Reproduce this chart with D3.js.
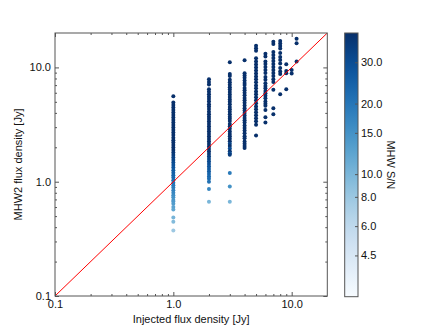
<!DOCTYPE html>
<html>
<head>
<meta charset="utf-8">
<script src="https://cdn.jsdelivr.net/npm/d3@7"></script>
<style>
  body { margin: 0; background: #fff; }
  svg { display: block; font-family: "Liberation Sans", Arial, sans-serif; }
</style>
</head>
<body>
<svg id="chart" width="440" height="330"></svg>
<script>
// injected flux density of each column [Jy]
const injected = [1, 2, 3, 4, 5, 6, 7, 8, 9, 10, 11];

// [measured MHW2 flux density, MHW S/N] per column
const col1 = [[5.6,118],[4.93,104],[4.69,98],[4.46,94],[4.24,89],[4.03,85],[3.83,80],[3.64,76],[3.46,73],[3.29,69],
  [3.13,66],[2.98,63],[2.83,59],[2.69,56],[2.56,54],[2.43,51],[2.31,49],[2.2,46],[2.09,44],[1.99,42],
  [1.89,40],[1.8,38],[1.71,36],[1.63,34],[1.55,33],[1.47,31],[1.4,29],[1.33,28],[1.26,26],[1.2,25],
  [1.14,24],[1.09,23],[1.03,22],[0.98,21],[0.93,20],[0.89,19],[0.84,18],[0.8,17],[0.76,16],[0.73,15],
  [0.69,14.5],[0.67,14],[0.64,13.4],[0.6,12.6],[0.57,12],[0.485,10.2],[0.447,9.4],[0.375,7.9]];
const col2 = [[7.87,165],[7.45,156],[7.1,149],[6.45,135],[6.13,129],[5.83,122],[5.55,117],[5.28,111],[5.02,105],[4.77,100],
  [4.54,95],[4.32,91],[4.1,86],[3.9,82],[3.71,78],[3.53,74],[3.36,71],[3.19,67],[3.04,64],[2.89,61],
  [2.75,58],[2.61,55],[2.48,52],[2.36,50],[2.25,47],[2.14,45],[2.03,43],[1.93,41],[1.84,39],[1.75,37],
  [1.66,35],[1.58,33],[1.5,31],[1.43,30],[1.36,28],[1.29,27],[1.23,26],[1.17,24],[1.11,23],[1.06,22],
  [1.0,21],[0.864,17],[0.669,10]];
const col3 = [[11.1,233],[8.77,184],[8.43,177],[7.78,163],[7.4,155],[7.05,148],[6.7,141],[6.4,134],[6.1,128],[5.8,122],
  [5.5,115],[5.25,110],[5.0,105],[4.75,100],[4.5,94],[4.3,90],[4.1,86],[3.9,82],[3.7,78],[3.55,75],
  [3.4,71],[3.2,67],[3.05,64],[2.9,61],[2.75,58],[2.62,55],[2.5,52],[2.38,50],[2.26,47],[2.15,33],
  [2.05,43],[1.95,31],[1.85,39],[1.77,30],[1.72,36],[1.19,19],[0.91,15],[0.669,10]];
const col4 = [[11.56,243],[8.9,187],[8.5,178],[8.1,170],[7.7,162],[7.3,153],[7.0,147],[6.6,139],[6.3,132],[6.0,126],
  [5.7,120],[5.4,113],[5.15,108],[4.9,103],[4.65,98],[4.4,92],[4.2,88],[4.0,84],[3.8,80],[3.6,76],
  [3.45,72],[3.3,69],[3.1,65],[2.95,62],[2.8,59],[2.65,56],[2.5,52],[2.4,50],[2.25,47],[2.15,45],
  [2.05,43],[1.97,41]];
const col5 = [[15.5,325],[14.7,309],[14.0,294],[12.03,253],[11.28,237],[10.62,223],[10.0,210],[9.41,198],[8.86,186],[8.34,175],
  [7.86,165],[7.4,155],[6.96,146],[6.56,138],[6.17,130],[5.81,122],[5.47,115],[5.15,108],[4.85,102],[4.56,96],
  [4.3,90],[4.05,85],[3.81,80],[3.59,75],[3.38,71],[3.15,66],[2.54,53]];
const col6 = [[13.2,277],[12.48,262],[11.24,236],[10.73,225],[10.1,212],[9.51,200],[8.95,188],[8.26,173],[7.78,163],[7.28,153],
  [6.89,145],[6.58,138],[6.23,131],[5.95,125],[5.64,118],[5.38,113],[5.03,106],[4.8,101],[4.61,97],[4.25,89],
  [3.67,77],[3.3,69]];
const col7 = [[16.8,353],[16.04,337],[13.66,287],[12.86,270],[12.11,254],[11.4,239],[10.73,225],[10.1,212],[9.51,200],[8.95,188],
  [8.43,177],[7.86,165],[7.47,157],[6.36,134],[4.4,92],[3.89,82]];
const col8 = [[17.03,358],[16.2,340],[15.41,324],[14.65,308],[13.38,281],[12.35,259],[11.63,244],[10.84,228],[9.9,208],[9.23,194],
  [8.77,184],[5.81,122]];
const col9 = [[10.66,224],[9.32,196],[8.9,187],[6.45,135]];
const col10 = [[9.51,200],[8.86,186]];
const col11 = [[17.85,375],[16.27,342],[11.24,236]];
const columns = [col1, col2, col3, col4, col5, col6, col7, col8, col9, col10, col11];

const axisDomain = [0.1, 20];
const majorTicks = [0.1, 1, 10];
const minorTicks = [0.2, 0.3, 0.4, 0.5, 0.6, 0.7, 0.8, 0.9, 2, 3, 4, 5, 6, 7, 8, 9];
const snrDomain = [3, 40];
const snrTicks = [4.5, 6, 8, 10, 15, 20, 30];

const plotLeft = 55, plotRight = 327.3, plotTop = 33, plotBottom = 296;
const cbLeft = 344.7, cbRight = 358, cbTop = 33, cbBottom = 296.7;
const frameColor = '#555';

const svg = d3.select('#chart');
svg.append('rect').attr('width', 440).attr('height', 330).attr('fill', '#fff');

const x = d3.scaleLog().domain(axisDomain).range([plotLeft, plotRight]);
const y = d3.scaleLog().domain(axisDomain).range([plotBottom, plotTop]);
const color = d3.scaleSequentialLog(d3.interpolateBlues).domain(snrDomain).clamp(true);
const cb = d3.scaleLog().domain(snrDomain).range([cbBottom, cbTop]);

svg.append('clipPath').attr('id', 'plot-clip')
  .append('rect').attr('x', plotLeft).attr('y', plotTop)
  .attr('width', plotRight - plotLeft).attr('height', plotBottom - plotTop);

// points
const pts = [];
columns.forEach((col, i) => col.forEach(([m, s]) => pts.push({inj: injected[i], m, s})));
svg.append('g').attr('clip-path', 'url(#plot-clip)')
  .selectAll('circle').data(pts).enter().append('circle')
  .attr('cx', d => x(d.inj))
  .attr('cy', d => y(d.m))
  .attr('r', 2)
  .attr('fill', d => color(d.s));

// one-to-one line
svg.append('path')
  .datum(axisDomain)
  .attr('clip-path', 'url(#plot-clip)')
  .attr('d', d3.line().x(d => x(d)).y(d => y(d)))
  .attr('stroke', '#ff0000')
  .attr('stroke-width', 1)
  .attr('fill', 'none');

// axes, ticks pointing inward on all four sides
function styleAxis(g) {
  g.select('.domain').remove();
  g.selectAll('line').attr('stroke', frameColor);
  g.selectAll('text').attr('font-size', 11).attr('fill', '#111')
    .attr('font-family', '"Liberation Sans", Arial, sans-serif');
}
const fmt = d3.format('.1f');

svg.append('g').attr('transform', `translate(0,${plotBottom})`)
  .call(d3.axisBottom(x).tickValues(majorTicks).tickFormat(fmt).tickSizeInner(-4).tickSizeOuter(0).tickPadding(4))
  .call(styleAxis);
svg.append('g').attr('transform', `translate(0,${plotBottom})`)
  .call(d3.axisBottom(x).tickValues(minorTicks).tickFormat('').tickSizeInner(-2).tickSizeOuter(0))
  .call(styleAxis);
svg.append('g').attr('transform', `translate(0,${plotTop})`)
  .call(d3.axisTop(x).tickValues(majorTicks).tickFormat('').tickSizeInner(-4).tickSizeOuter(0))
  .call(styleAxis);
svg.append('g').attr('transform', `translate(0,${plotTop})`)
  .call(d3.axisTop(x).tickValues(minorTicks).tickFormat('').tickSizeInner(-2).tickSizeOuter(0))
  .call(styleAxis);

svg.append('g').attr('transform', `translate(${plotLeft},0)`)
  .call(d3.axisLeft(y).tickValues(majorTicks).tickFormat(fmt).tickSizeInner(-4).tickSizeOuter(0).tickPadding(4))
  .call(styleAxis);
svg.append('g').attr('transform', `translate(${plotLeft},0)`)
  .call(d3.axisLeft(y).tickValues(minorTicks).tickFormat('').tickSizeInner(-2).tickSizeOuter(0))
  .call(styleAxis);
svg.append('g').attr('transform', `translate(${plotRight},0)`)
  .call(d3.axisRight(y).tickValues(majorTicks).tickFormat('').tickSizeInner(-4).tickSizeOuter(0))
  .call(styleAxis);
svg.append('g').attr('transform', `translate(${plotRight},0)`)
  .call(d3.axisRight(y).tickValues(minorTicks).tickFormat('').tickSizeInner(-2).tickSizeOuter(0))
  .call(styleAxis);

svg.append('rect')
  .attr('x', plotLeft).attr('y', plotTop)
  .attr('width', plotRight - plotLeft).attr('height', plotBottom - plotTop)
  .attr('fill', 'none').attr('stroke', frameColor).attr('stroke-width', 1);

// axis titles
svg.append('text')
  .attr('x', (plotLeft + plotRight) / 2).attr('y', 323)
  .attr('text-anchor', 'middle').attr('font-size', 11).attr('fill', '#111')
  .text('Injected flux density [Jy]');
svg.append('text')
  .attr('transform', `translate(22,${(plotTop + plotBottom) / 2}) rotate(-90)`)
  .attr('text-anchor', 'middle').attr('font-size', 11).attr('fill', '#111')
  .text('MHW2 flux density [Jy]');

// colorbar
const grad = svg.append('defs').append('linearGradient')
  .attr('id', 'cb-grad').attr('x1', 0).attr('y1', 1).attr('x2', 0).attr('y2', 0);
d3.range(0, 1.0001, 0.05).forEach(t => {
  grad.append('stop').attr('offset', t).attr('stop-color', d3.interpolateBlues(t));
});
svg.append('rect')
  .attr('x', cbLeft).attr('y', cbTop).attr('width', cbRight - cbLeft).attr('height', cbBottom - cbTop)
  .attr('fill', 'url(#cb-grad)').attr('stroke', frameColor).attr('stroke-width', 1);

svg.append('g').attr('transform', `translate(${cbRight},0)`)
  .call(d3.axisRight(cb).tickValues(snrTicks).tickFormat(fmt).tickSizeInner(-3).tickSizeOuter(0).tickPadding(3))
  .call(styleAxis);

svg.append('text')
  .attr('transform', `translate(387,${(cbTop + cbBottom) / 2}) rotate(90)`)
  .attr('text-anchor', 'middle').attr('font-size', 11).attr('fill', '#111')
  .text('MHW S/N');
</script>
</body>
</html>
